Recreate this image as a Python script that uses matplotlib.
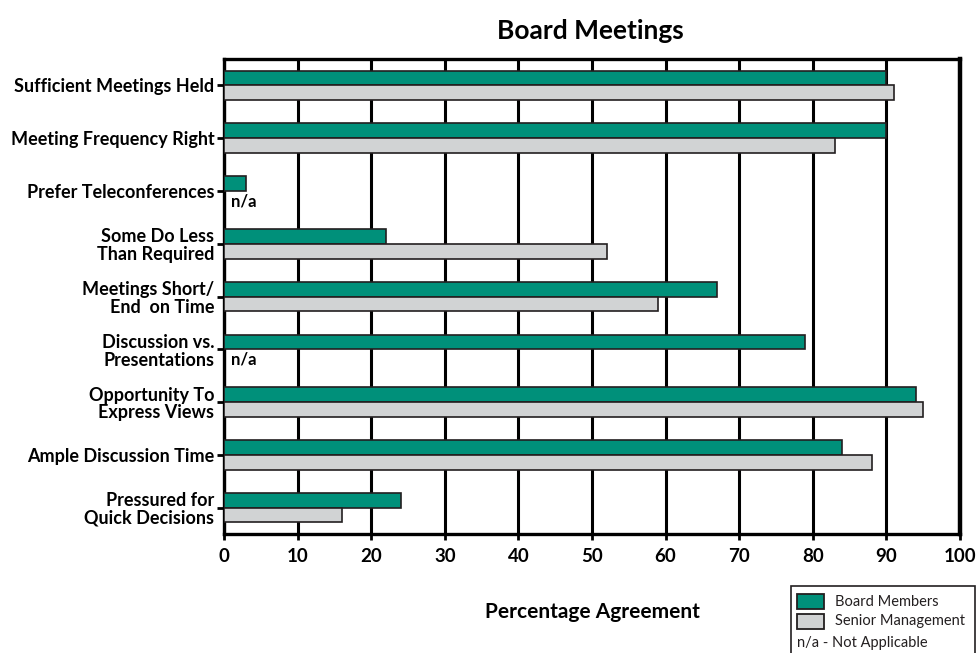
import numpy as np
import matplotlib
matplotlib.use("Agg")
import matplotlib.pyplot as plt
from matplotlib.patches import Rectangle

# survey categories, top to bottom
categories = [
    "Sufficient Meetings Held",
    "Meeting Frequency Right",
    "Prefer Teleconferences",
    "Some Do Less\nThan Required",
    "Meetings Short/\nEnd  on Time",
    "Discussion vs.\nPresentations",
    "Opportunity To\nExpress Views",
    "Ample Discussion Time",
    "Pressured for\nQuick Decisions",
]
# percentage agreement; None = not applicable
board = [90, 90, 3, 22, 67, 79, 94, 84, 24]
senior = [91, 83, None, 52, 59, None, 95, 88, 16]
xticks = [0, 10, 20, 30, 40, 50, 60, 70, 80, 90, 100]

TEAL = "#00907a"
GREY = "#d1d3d4"
EDGE = "#231f20"
FONT = "Lato"

fig = plt.figure(figsize=(9.8, 6.53), dpi=100)
ax = fig.add_axes([0.2286, 0.1822, 0.7510, 0.7274])

y = np.arange(len(categories))
h = 0.28
for i in range(len(categories)):
    ax.barh(y[i] - h / 2, board[i], height=h, color=TEAL, edgecolor=EDGE,
            linewidth=1.2, zorder=3)
    if senior[i] is None:
        ax.text(1, y[i] + h / 2 + 0.05, "n/a", fontsize=12, fontweight="bold",
                family=FONT, va="center", ha="left", zorder=4)
    else:
        ax.barh(y[i] + h / 2, senior[i], height=h, color=GREY, edgecolor=EDGE,
                linewidth=1.2, zorder=3)

ax.set_xlim(0, 100)
ax.set_ylim(len(categories) - 0.5, -0.5)
ax.set_xticks(xticks)
ax.set_xticklabels([str(t) for t in xticks], fontsize=13.5, fontweight="bold",
                   family=FONT)
ax.set_yticks(y)
ax.set_yticklabels(categories, fontsize=13, fontweight="bold", family=FONT,
                   linespacing=1.05)
ax.tick_params(axis="x", length=4, width=2, color="black", pad=6)
ax.tick_params(axis="y", length=5, width=2, color="black", pad=2)

ax.grid(axis="x", color="black", linewidth=2.2, zorder=0)
ax.set_axisbelow(True)
for side in ["left", "bottom", "top"]:
    ax.spines[side].set_linewidth(2.4)
ax.spines["right"].set_linewidth(3.2)

ax.set_xlabel("Percentage Agreement", fontsize=15, fontweight="bold",
              family=FONT, labelpad=27)
fig.text(0.602, 0.953, "Board Meetings", ha="center", va="center",
         fontsize=19, fontweight="bold", family=FONT)

# legend box in the lower right corner
def px(x, yy):
    return x / 980, 1 - yy / 653

x0, y0 = px(791, 660)
x1, y1 = px(975, 586)
fig.patches.append(Rectangle((x0, y0), x1 - x0, y1 - y0, transform=fig.transFigure,
                             facecolor="white", edgecolor=EDGE, linewidth=1.2))
for top, col in [(594, TEAL), (614, GREY)]:
    a, b = px(797, top + 15)
    c, d = px(824, top)
    fig.patches.append(Rectangle((a, b), c - a, d - b, transform=fig.transFigure,
                                 facecolor=col, edgecolor=EDGE, linewidth=1.3))
for label, yy in [("Board Members", 602), ("Senior Management", 621)]:
    fig.text(*px(835, yy), label, fontsize=10.5, family=FONT, va="center",
             ha="left", color=EDGE)
fig.text(*px(797, 643), "n/a - Not Applicable", fontsize=10.5, family=FONT,
         va="center", ha="left", color=EDGE)

fig.savefig("out.png", dpi=100)
